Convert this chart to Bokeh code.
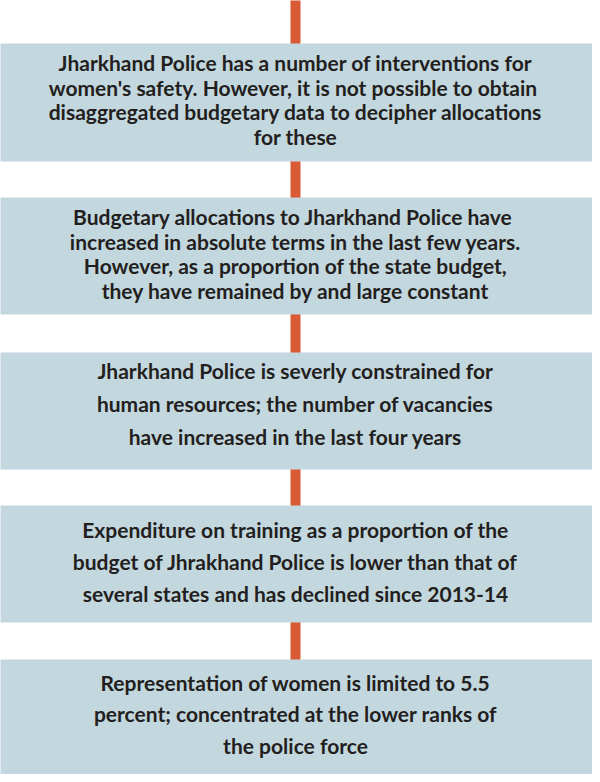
from bokeh.plotting import figure
from bokeh.models import ColumnDataSource, Range1d
from bokeh.core.properties import value
from bokeh.embed import file_html
from bokeh.resources import INLINE

# Findings (one box per step), each as its lines of text
steps = [
    ["Jharkhand Police has a number of interventions for",
     "women's safety. However, it is not  possible to obtain",
     "disaggregated budgetary data to decipher allocations",
     "for these"],
    ["Budgetary allocations to Jharkhand  Police have",
     "increased in absolute terms in the last few years.",
     "However, as a proportion of the state budget,",
     "they have remained by and large constant"],
    ["Jharkhand Police is severly constrained for",
     "human resources; the number of vacancies",
     "have increased in the last four years"],
    ["Expenditure on training as a proportion of the",
     "budget of Jhrakhand Police is lower than that of",
     "several states and has declined since 2013-14"],
    ["Representation of women is limited to 5.5",
     "percent; concentrated at the lower ranks of",
     "the police force"],
]

# layout (screen pixels)
box_top = [51, 205, 360, 513, 667]
box_bot = [169, 322, 477, 630, 790]
line_gap = [24.5, 24.5, 33, 32, 31.5]
text_mid = [107, 261, 411, 569, 721]

W, H = 592, 774
p = figure(width=W, height=H, output_backend="svg", toolbar_location=None,
           x_range=Range1d(8, 600), y_range=Range1d(782, 8),
           min_border=0, outline_line_color=None)
p.axis.visible = False
p.grid.visible = False
p.background_fill_color = "white"
p.border_fill_color = "white"

# connector line
p.quad(left=[298], right=[308], top=[6], bottom=[700], fill_color="#d95b36",
       line_color=None)

p.quad(left=[0]*5, right=[610]*5, top=box_top, bottom=box_bot,
       fill_color="#c3d7df", line_color=None)

xs, ys, ts = [], [], []
for i, lines in enumerate(steps):
    n = len(lines)
    for j, t in enumerate(lines):
        xs.append(303)
        ys.append(text_mid[i] + (j - (n - 1) / 2) * line_gap[i])
        ts.append(t)
src = ColumnDataSource(dict(x=xs, y=ys, t=ts))
p.text(x="x", y="y", text="t", source=src, text_align="center",
       text_baseline="middle", text_font=value("Lato"), text_font_style="bold",
       text_font_size="21px", text_color="#231f20")

open("out.html", "w").write(file_html(p, INLINE))
